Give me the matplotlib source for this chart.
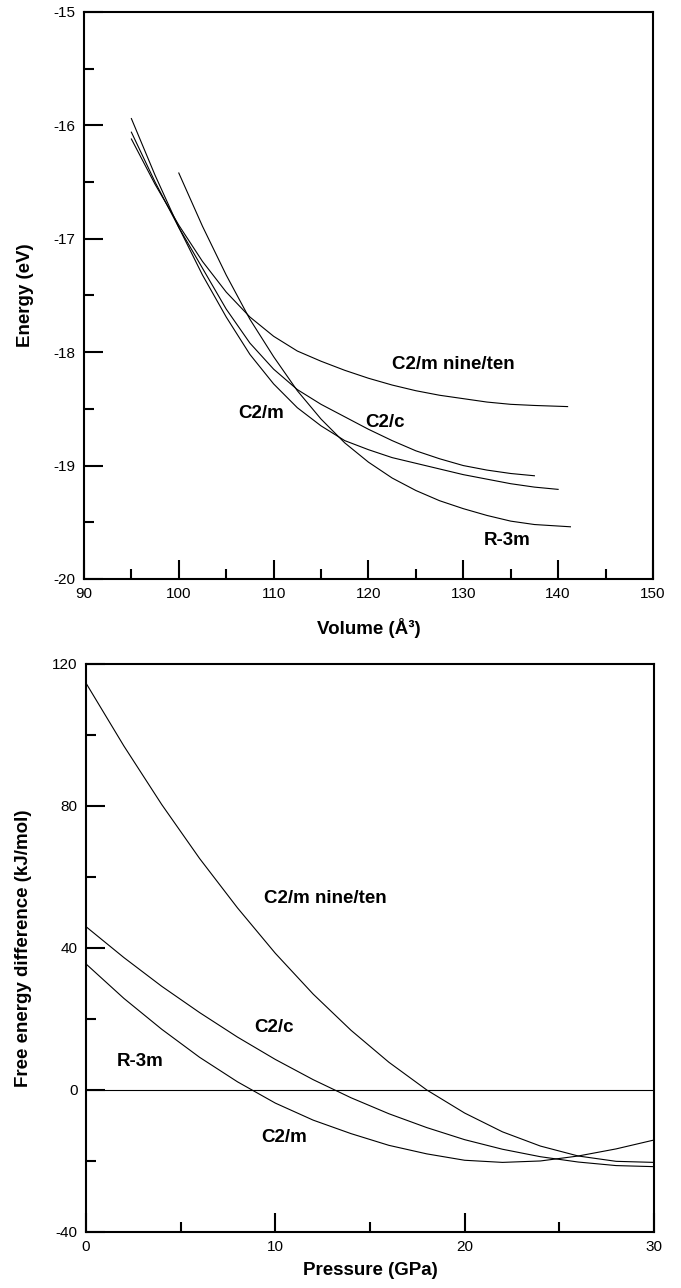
import matplotlib
matplotlib.use('Agg')
import matplotlib.pyplot as plt
import matplotlib as mpl
from matplotlib.ticker import MultipleLocator

mpl.rcParams.update({
    'font.family': ['Liberation Sans', 'DejaVu Sans'],
    'font.size': 11,
    'axes.linewidth': 1.5,
    'axes.unicode_minus': False,
})

# ---- top panel: energy vs volume ----
vol_95 = [95, 97.5, 100, 102.5, 105, 107.5, 110, 112.5, 115, 117.5, 120,
          122.5, 125, 127.5, 130, 132.5, 135, 137.5]
e_nineten = [-16.12, -16.52, -16.88, -17.20, -17.47, -17.69, -17.86, -17.99, -18.08,
             -18.16, -18.23, -18.29, -18.34, -18.38, -18.41, -18.44, -18.46, -18.47]
e_c2c = [-16.06, -16.50, -16.90, -17.26, -17.62, -17.92, -18.15, -18.33, -18.46,
         -18.57, -18.68, -18.78, -18.87, -18.94, -19.00, -19.04, -19.07, -19.09]
e_c2m = [-15.94, -16.44, -16.90, -17.32, -17.69, -18.02, -18.28, -18.49, -18.65,
         -18.78, -18.86, -18.93, -18.98, -19.03, -19.08, -19.12, -19.16, -19.19]
vol_r3m = [100, 102.5, 105, 107.5, 110, 112.5, 115, 117.5, 120, 122.5, 125,
           127.5, 130, 132.5, 135, 137.5, 141.3]
e_r3m = [-16.42, -16.89, -17.32, -17.71, -18.04, -18.34, -18.59, -18.80, -18.97,
         -19.11, -19.22, -19.31, -19.38, -19.44, -19.49, -19.52, -19.54]
# end points of the longer branches
nineten_end = (141.0, -18.48)
c2m_end = (140.0, -19.21)

# ---- bottom panel: free energy difference vs pressure ----
pressure = [0, 2, 4, 6, 8, 10, 12, 14, 16, 18, 20, 22, 24, 26, 28, 30]
g_nineten = [114.6, 96.9, 80.4, 65.2, 51.3, 38.5, 27.0, 16.8, 7.8, 0.0,
             -6.5, -11.8, -15.8, -18.6, -20.1, -20.4]
g_c2c = [46.0, 37.3, 29.2, 21.8, 14.9, 8.6, 2.9, -2.2, -6.7, -10.6,
         -14.0, -16.7, -18.8, -20.3, -21.3, -21.6]
g_c2m = [35.5, 25.8, 17.1, 9.2, 2.3, -3.7, -8.5, -12.3, -15.6, -18.0,
         -19.8, -20.4, -20.0, -18.6, -16.6, -14.1]
g_r3m = [0.0] * len(pressure)

fig = plt.figure(figsize=(6.81, 12.88), dpi=100)
ax1 = fig.add_axes([0.1233, 0.5505, 0.8355, 0.4402])
ax2 = fig.add_axes([0.1263, 0.0435, 0.8340, 0.4410])

lw = 0.8
ax1.plot(vol_95 + [nineten_end[0]], e_nineten + [nineten_end[1]], color='k', lw=lw)
ax1.plot(vol_95, e_c2c, color='k', lw=lw)
ax1.plot(vol_95 + [c2m_end[0]], e_c2m + [c2m_end[1]], color='k', lw=lw)
ax1.plot(vol_r3m, e_r3m, color='k', lw=lw)

ax2.plot(pressure, g_nineten, color='k', lw=lw)
ax2.plot(pressure, g_c2c, color='k', lw=lw)
ax2.plot(pressure, g_c2m, color='k', lw=lw)
ax2.plot(pressure, g_r3m, color='k', lw=lw)

lab = dict(fontsize=13.5, fontweight='bold', ha='center', va='center')
ax1.text(128.9, -18.11, 'C2/m nine/ten', **lab)
ax1.text(121.7, -18.62, 'C2/c', **lab)
ax1.text(134.65, -19.66, 'R-3m', **lab)
ax1.text(108.7, -18.54, 'C2/m', **lab)

ax2.text(12.65, 54.0, 'C2/m nine/ten', **lab)
ax2.text(9.93, 17.5, 'C2/c', **lab)
ax2.text(2.85, 7.9, 'R-3m', **lab)
ax2.text(10.46, -13.5, 'C2/m', **lab)

ax1.set_xlim(90, 150)
ax1.set_ylim(-20, -15)
ax1.xaxis.set_major_locator(MultipleLocator(10))
ax1.xaxis.set_minor_locator(MultipleLocator(5))
ax1.yaxis.set_major_locator(MultipleLocator(1))
ax1.yaxis.set_minor_locator(MultipleLocator(0.5))

ax2.set_xlim(0, 30)
ax2.set_ylim(-40, 120)
ax2.xaxis.set_major_locator(MultipleLocator(10))
ax2.xaxis.set_minor_locator(MultipleLocator(5))
ax2.yaxis.set_major_locator(MultipleLocator(40))
ax2.yaxis.set_minor_locator(MultipleLocator(20))

for ax in (ax1, ax2):
    ax.tick_params(which='both', direction='in', top=False, right=False, width=1.5)
    ax.tick_params(which='major', length=14, pad=6, labelsize=11)
    ax.tick_params(which='minor', length=7)

ax1.set_xlabel('Volume (Å³)', fontsize=13.5, fontweight='bold')
ax1.set_ylabel('Energy (eV)', fontsize=13.5, fontweight='bold')
ax1.xaxis.set_label_coords(0.5, -0.068)
ax1.yaxis.set_label_coords(-0.087, 0.5)

ax2.set_xlabel('Pressure (GPa)', fontsize=13.5, fontweight='bold')
ax2.set_ylabel('Free energy difference (kJ/mol)', fontsize=13.5, fontweight='bold')
ax2.xaxis.set_label_coords(0.5, -0.053)
ax2.yaxis.set_label_coords(-0.095, 0.5)

plt.savefig('out.png', dpi=100)
